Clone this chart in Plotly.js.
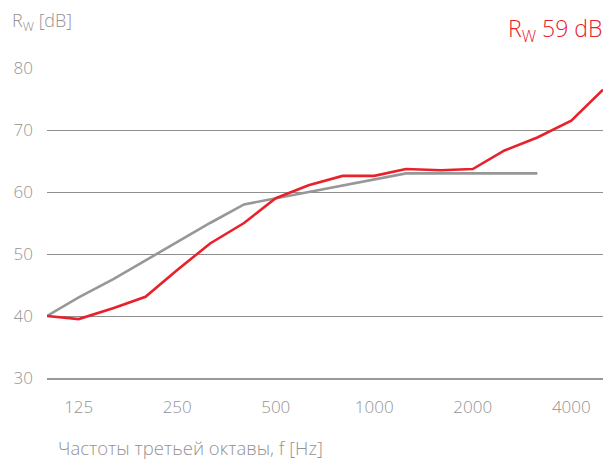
<!DOCTYPE html>
<html>
<head>
<meta charset="utf-8">
<script src="https://cdn.plot.ly/plotly-3.0.1.min.js"></script>
<style>html,body{margin:0;padding:0;background:#fff;}#chart{width:606px;height:459px;}</style>
</head>
<body>
<div id="chart"></div>
<script>
// Third-octave frequencies (Hz)
const frequencies = [100, 125, 160, 200, 250, 315, 400, 500, 630, 800, 1000, 1250, 1600, 2000, 2500, 3150, 4000, 5000];
// Measured sound reduction index R (dB)
const measured = [40.0, 39.5, 41.3, 43.1, 47.4, 51.7, 55.0, 59.0, 61.1, 62.6, 62.6, 63.7, 63.5, 63.7, 66.7, 68.8, 71.5, 76.5];
// Shifted reference curve (ISO 717-1), 100–3150 Hz
const refFrequencies = [100, 125, 160, 200, 250, 315, 400, 500, 630, 800, 1000, 1250, 1600, 2000, 2500, 3150];
const reference = [40, 43, 46, 49, 52, 55, 58, 59, 60, 61, 62, 63, 63, 63, 63, 63];
// Axis ticks
const xTickValues = [125, 250, 500, 1000, 2000, 4000];
const xTickLabels = ['125', '250', '500', '1000', '2000', '4000'];
const yTickValues = [30, 40, 50, 60, 70, 80];

const grey = '#939393';
const red = '#e8212b';
const fontFam = '"Open Sans", Lato, sans-serif';

const traces = [
  {x: refFrequencies, y: reference, type: 'scatter', mode: 'lines',
   line: {color: '#979797', width: 2.6}, hoverinfo: 'skip'},
  {x: frequencies, y: measured, type: 'scatter', mode: 'lines',
   line: {color: red, width: 2.6}, hoverinfo: 'skip'}
];

const W = 606, H = 459, L = 47, R = 3, T = 68, B = 81;
const pw = W - L - R, ph = H - T - B;
const px = v => (v - L) / pw;
const py = v => (H - B - v) / ph;

const tf = {family: fontFam, color: grey, size: 17, weight: 300};

const layout = {
  width: W, height: H,
  margin: {l: L, r: R, t: T, b: B, pad: 0},
  paper_bgcolor: '#ffffff', plot_bgcolor: '#ffffff',
  showlegend: false,
  font: {family: fontFam, color: grey, size: 17, weight: 300},
  xaxis: {
    type: 'log', range: [Math.log10(100), Math.log10(5000)],
    tickvals: xTickValues, ticktext: xTickLabels,
    showgrid: false, zeroline: false,
    showline: true, linecolor: '#999999', linewidth: 2,
    ticks: '', ticklabelstandoff: 13,
    tickfont: tf,
    fixedrange: true
  },
  yaxis: {
    range: [30, 80], tickvals: yTickValues,
    showgrid: true, gridcolor: '#8f8f8f', gridwidth: 1,
    zeroline: false, showline: false, ticks: '',
    ticklabelstandoff: 13,
    tickfont: tf,
    fixedrange: true
  },
  annotations: [
    {xref: 'paper', yref: 'paper', x: px(10), y: py(21), xanchor: 'left', yanchor: 'middle',
     text: 'R<sub>W</sub> [dB]', showarrow: false, font: {family: fontFam, color: grey, size: 18, weight: 300}},
    {xref: 'paper', yref: 'paper', x: px(604), y: py(29), xanchor: 'right', yanchor: 'middle',
     text: 'R<sub>W</sub> 59 dB', showarrow: false, font: {family: fontFam, color: red, size: 23, weight: 300}},
    {xref: 'paper', yref: 'paper', x: px(56), y: py(447), xanchor: 'left', yanchor: 'middle',
     text: 'Частоты третьей октавы, f [Hz]', showarrow: false, font: {family: fontFam, color: grey, size: 18.5, weight: 300}}
  ]
};

Plotly.newPlot('chart', traces, layout, {displayModeBar: false, staticPlot: true});
</script>
</body>
</html>
